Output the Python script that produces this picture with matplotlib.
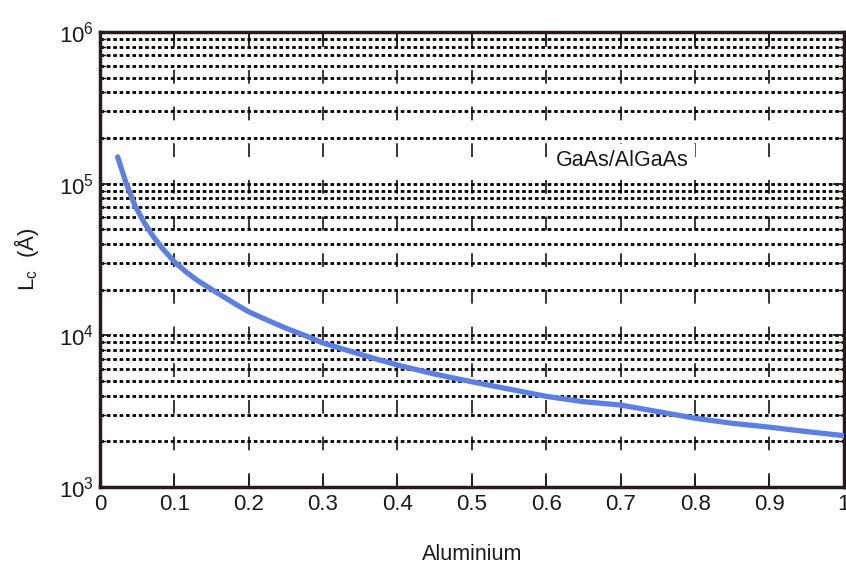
import numpy as np
import matplotlib.pyplot as plt
from matplotlib.ticker import LogLocator, FixedLocator

plt.rcParams['font.family'] = ['Liberation Sans', 'DejaVu Sans']
plt.rcParams['mathtext.fontset'] = 'custom'
plt.rcParams['mathtext.rm'] = 'Liberation Sans'
plt.rcParams['mathtext.it'] = 'Liberation Sans:italic'

# Data
aluminium = [0.024, 0.035, 0.047, 0.06, 0.072, 0.085, 0.1, 0.115, 0.13, 0.148,
             0.166, 0.183, 0.2, 0.225, 0.251, 0.275, 0.3, 0.333, 0.366, 0.4,
             0.45, 0.5, 0.55, 0.6, 0.65, 0.7, 0.75, 0.8, 0.85, 0.9, 0.95, 1.0]
lc = [1.5e5, 1.02e5, 7.2e4, 5.5e4, 4.47e4, 3.7e4, 3.06e4, 2.64e4, 2.32e4, 2.04e4,
      1.80e4, 1.60e4, 1.43e4, 1.26e4, 1.11e4, 1.0e4, 8.9e3, 7.95e3, 7.1e3, 6.37e3,
      5.55e3, 4.94e3, 4.42e3, 3.96e3, 3.65e3, 3.47e3, 3.14e3, 2.84e3, 2.63e3, 2.48e3, 2.32e3, 2.18e3]

fig = plt.figure(figsize=(8.46, 5.68), dpi=100)
ax = fig.add_axes([0.118, 0.1426, 0.8795, 0.8011])

ax.semilogy(aluminium, lc, color='#5b80e4', linewidth=3.8, solid_capstyle='round',
            solid_joinstyle='round', zorder=3)

ax.set_xlim(0, 1)
ax.set_ylim(1e3, 1e6)
ax.set_xticks(np.arange(0, 1.01, 0.1))
ax.set_xticklabels(['0', '0.1', '0.2', '0.3', '0.4', '0.5', '0.6', '0.7', '0.8', '0.9', '1'])
ax.yaxis.set_major_locator(FixedLocator([1e3, 1e4, 1e5, 1e6]))
ax.yaxis.set_minor_locator(LogLocator(base=10, subs=np.arange(2, 10)))
ax.set_yticklabels([r'$10^3$', r'$10^4$', r'$10^5$', r'$10^6$'])

ax.grid(True, axis='x', which='major', color='black', linestyle=(0, (9, 15)), linewidth=1.1)
ax.grid(True, axis='y', which='both', color='black', linestyle=(0, (1.3, 1.0)), linewidth=2.0)

ax.tick_params(which='both', direction='in', top=True, right=True, labelsize=16,
               colors='#2a1a1a', labelcolor='#1a1a1a')
ax.tick_params(which='major', length=8, width=1.3)
ax.tick_params(which='minor', length=4, width=1.0)
ax.tick_params(axis='x', pad=5)
ax.tick_params(axis='y', pad=4)
for s in ax.spines.values():
    s.set_linewidth(2.5)
    s.set_color('#2a1a1a')

ax.text(0.613, 1.43e5, 'GaAs/AlGaAs', fontsize=15.5, va='center', ha='left',
        backgroundcolor='white', color='#1a1a1a')

ax.set_xlabel('Aluminium', fontsize=15.5, labelpad=21, color='#1a1a1a')
ax.set_ylabel(r'L$_\mathrm{c}$  (Å)', fontsize=16, labelpad=13, color='#1a1a1a')

fig.savefig('out.png', dpi=100)
